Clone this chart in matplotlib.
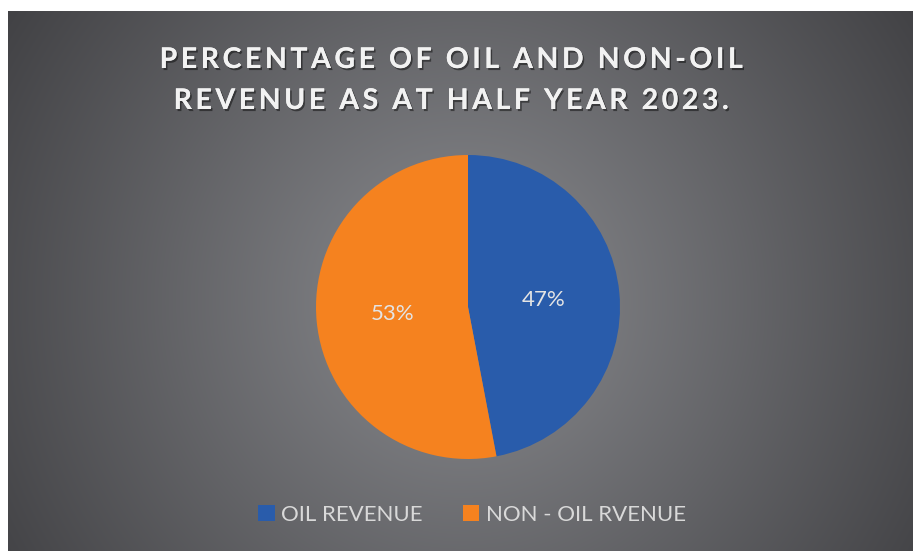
import matplotlib.pyplot as plt
import matplotlib.patheffects as pe
from matplotlib.patches import Patch
import numpy as np

plt.rcParams['font.family'] = ['Lato', 'DejaVu Sans']

labels = ["OIL REVENUE", "NON - OIL RVENUE"]
shares = [47, 53]
colors = ["#295cab", "#f5821f"]
title_lines = ["PERCENTAGE OF OIL AND NON-OIL", "REVENUE AS AT HALF YEAR 2023."]


def spaced(s, gap="\u2009"):
    # loose tracking for the heading
    return gap.join(s)


W, H = 914, 551
fig = plt.figure(figsize=(W / 100, H / 100), dpi=100, facecolor="white")

# radial grey gradient behind the chart
bg = fig.add_axes([8 / W, 0, 905 / W, 540 / H], zorder=0)
yy, xx = np.mgrid[0:540, 0:905]
cx, cy = 455, 290
d = np.hypot(xx - cx, yy - cy) / np.hypot(455, 300)
d = np.clip(d, 0, 1)
inner = np.array([0.545, 0.549, 0.565])
outer = np.array([0.255, 0.255, 0.267])
img = inner[None, None, :] * (1 - d[..., None]) + outer[None, None, :] * d[..., None]
bg.imshow(img, aspect="auto", interpolation="bilinear")
bg.axis("off")

# pie
r = 152
cxp, cyp = 468, 307
ax = fig.add_axes([(cxp - r) / W, (H - cyp - r) / H, 2 * r / W, 2 * r / H], zorder=1)
wedges, _, pcts = ax.pie(
    shares,
    colors=colors,
    startangle=90,
    counterclock=False,
    autopct=lambda p: f"{p:.0f}%",
    pctdistance=0.5,
    wedgeprops=dict(linewidth=0),
    textprops=dict(color="#e4e4e4", fontsize=16),
)
ax.set_xlim(-1, 1)
ax.set_ylim(-1, 1)
ax.set_aspect("auto")
ax.axis("off")

# heading
shadow = [pe.withSimplePatchShadow(offset=(1.2, -1.5), shadow_rgbFace="black", alpha=0.45), pe.Normal()]
for line, ybase in zip(title_lines, [68, 109]):
    fig.text(452 / W, (H - ybase) / H, spaced(line), ha="center", va="baseline",
             fontsize=20.5, fontweight="bold", color="#f2f2f2", path_effects=shadow, zorder=3)

# legend
handles = [Patch(facecolor=c, edgecolor="none") for c in colors]
fig.legend(handles, labels, loc="center", bbox_to_anchor=(472 / W, (H - 515) / H),
           ncol=2, frameon=False, fontsize=16, labelcolor="#d9d9d9",
           handlelength=0.75, handleheight=0.75, handletextpad=0.3, columnspacing=1.8)

fig.savefig("out.png", dpi=100, facecolor="white")
